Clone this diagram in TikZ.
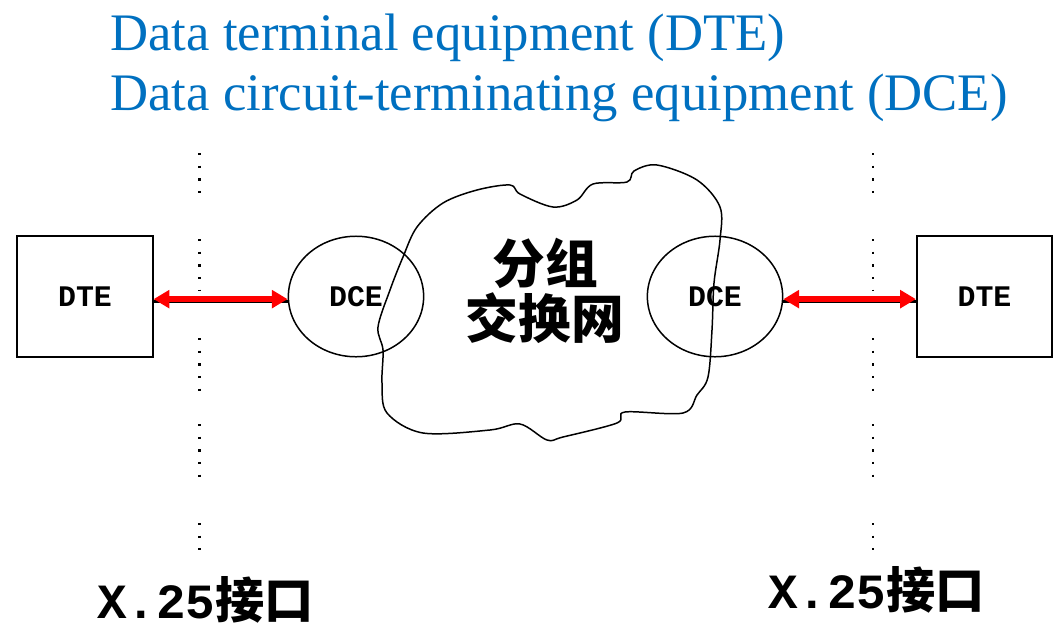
\documentclass[tikz,border=0pt]{standalone}
\usepackage{fontspec}
\setmainfont{Liberation Serif}
\newfontfamily\monofont{Liberation Mono}
\newfontfamily\cjkfont{Noto Sans CJK SC}
\usepackage{tikz}
\usetikzlibrary{shapes.geometric, arrows.meta, positioning}
\definecolor{myblue}{RGB}{0,112,192}
\definecolor{myred}{RGB}{255,0,0}
\definecolor{mydark}{RGB}{0,0,0}
\tikzset{
  dtebox/.style={rectangle, draw=mydark, line width=1.1pt,
    minimum width=77pt, minimum height=68.6pt, inner sep=0pt,
    font=\monofont\bfseries\fontsize{17}{20}\selectfont},
  dcering/.style={ellipse, draw=mydark, line width=0.85pt,
    minimum width=77pt, minimum height=68.6pt, inner sep=0pt,
    font=\monofont\bfseries\fontsize{17}{20}\selectfont},
  titletext/.style={color=myblue, anchor=base west, inner sep=0pt,
    font=\fontsize{30}{36}\selectfont},
  portlabel/.style={anchor=base west, inner sep=0pt,
    font=\bfseries\fontsize{28}{32}\selectfont},
  redarrow/.style={{Triangle[length=9pt,width=10pt]}-{Triangle[length=9pt,width=10pt]},
    line width=3.4pt, color=myred},
  shadowline/.style={line width=1.7pt, color=mydark},
  sepline/.style={line width=1.3pt, color=mydark, dash pattern=on 1.3pt off 5.9pt},
  cloudline/.style={line width=0.85pt, color=mydark}
}

\begin{document}
\begin{tikzpicture}[x=0.02cm, y=-0.02cm]
  \useasboundingbox (0,0) rectangle (1058,629);

  % Title lines
  \node[titletext] (ttl1) at (110,50) {Data terminal equipment (DTE)};
  \node[titletext] (ttl2) at (110,110) {Data circuit-terminating equipment (DCE)};

  % Interface separators
  \foreach \xp in {199.5, 873} {
    \foreach \ya/\yb in {153/194, 239/291, 338/391, 424/477, 523/550}
      \draw[sepline] (\xp,\ya) -- (\xp,\yb);
  }

  % Packet switching network cloud
  \draw[cloudline] plot[smooth cycle, tension=0.55] coordinates {
    (417,227) (443,203) (477,190) (510,185) (520,194) (553,207) (577,200)
    (593,184) (627,182) (634,171) (657,165) (697,180) (720,207) (720,240)
    (714,283) (712,330) (708,377) (697,395) (683,413) (625,412) (617,423)
    (563,437) (547,440) (520,424) (490,430) (423,433) (387,413) (382,383)
    (383,350) (378,327) (390,290) (403,257)};
  \node[font=\cjkfont\bfseries\fontsize{30}{31}\selectfont, align=center] (psn) at (545,291) {分组\\交换网};

  % End stations
  \node[dtebox] (dteL) at (85,296.5) {DTE};
  \node[dtebox] (dteR) at (984.5,296.5) {DTE};
  \node[dcering] (dceL) at (356,296.5) {DCE};
  \node[dcering] (dceR) at (715,296.5) {DCE};

  % Links
  \draw[shadowline] ([yshift=-2.6pt]dteL.east) -- ([yshift=-2.6pt]dceL.west);
  \draw[redarrow] ([yshift=-1.5pt]dteL.east) -- ([yshift=-1.5pt]dceL.west);
  \draw[shadowline] ([yshift=-2.6pt]dceR.east) -- ([yshift=-2.6pt]dteR.west);
  \draw[redarrow] ([yshift=-1.5pt]dceR.east) -- ([yshift=-1.5pt]dteR.west);

  % Interface labels
  \node[portlabel] (ifL) at (97,618) {{\monofont X.25}{\cjkfont 接口}};
  \node[portlabel] (ifR) at (768,608) {{\monofont X.25}{\cjkfont 接口}};
\end{tikzpicture}
\end{document}
